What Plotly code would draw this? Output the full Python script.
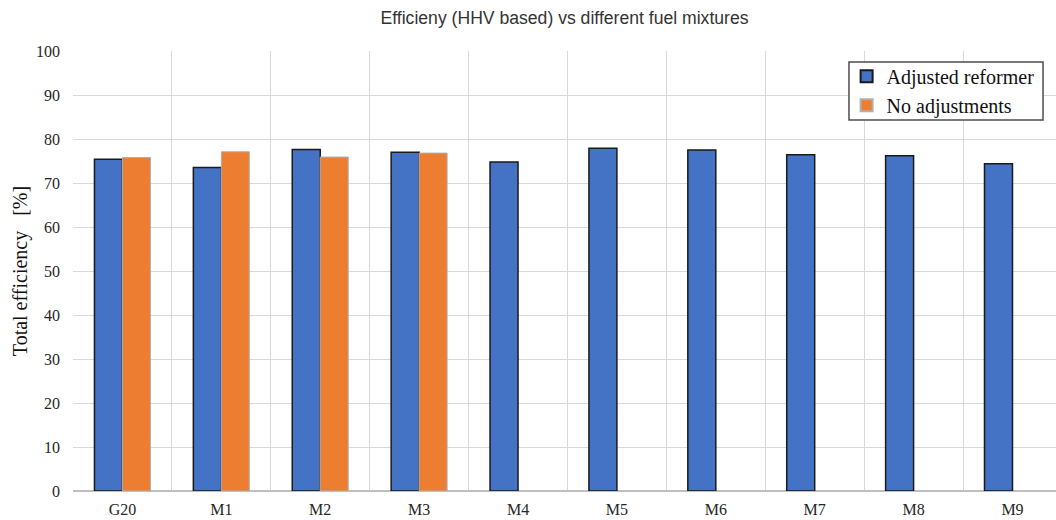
import plotly.graph_objects as go

mixtures = ["G20", "M1", "M2", "M3", "M4", "M5", "M6", "M7", "M8", "M9"]
adjusted_reformer = [75.4, 73.5, 77.6, 77.0, 74.8, 77.9, 77.5, 76.4, 76.2, 74.4]
no_adjustments = [75.8, 77.1, 75.9, 76.8, None, None, None, None, None, None]

serif = "Liberation Serif, Times New Roman, serif"

fig = go.Figure()
fig.add_trace(go.Bar(
    x=mixtures, y=adjusted_reformer, name="Adjusted reformer",
    marker=dict(color="#4472C4", line=dict(color="#1a1a1a", width=1.5)),
))
fig.add_trace(go.Bar(
    x=mixtures, y=no_adjustments, name="No adjustments",
    marker=dict(color="#ED7D31", line=dict(color="#b0b0b0", width=1)),
))

# framed white box behind the legend entries
fig.add_shape(
    type="rect", xref="paper", yref="paper",
    x0=0.7894, x1=0.9868, y0=0.843, y1=0.975,
    fillcolor="white", line=dict(color="#4d4d4d", width=1.5), layer="above",
)

fig.update_layout(
    width=1056, height=520,
    margin=dict(l=73, r=0, t=51, b=29),
    paper_bgcolor="white", plot_bgcolor="white",
    barmode="group", bargap=0.434, bargroupgap=0,
    title=dict(
        text="Efficieny (HHV based) vs different fuel mixtures",
        x=0.5, xref="paper", xanchor="center", y=0.965, yanchor="middle",
        font=dict(family="Liberation Sans, Arial, sans-serif",
                  size=17.6, color="#333333"),
    ),
    legend=dict(
        x=0.787, y=0.987, xanchor="left", yanchor="top",
        bgcolor="rgba(0,0,0,0)", borderwidth=0,
        font=dict(family=serif, size=20, color="#111111"),
        itemsizing="constant", tracegroupgap=0,
    ),
    xaxis=dict(
        type="category", tickson="boundaries", range=[-0.5, 9.44],
        showgrid=True, gridcolor="#d9d9d9", gridwidth=1,
        showline=False, ticks="", ticklabelstandoff=7,
        tickfont=dict(family=serif, size=16, color="#262626"),
    ),
    yaxis=dict(
        range=[0, 100], dtick=10,
        showgrid=True, gridcolor="#d9d9d9", gridwidth=1,
        zeroline=True, zerolinecolor="#bfbfbf", zerolinewidth=2,
        showline=False, ticks="", ticklabelstandoff=12,
        tickfont=dict(family=serif, size=16, color="#262626"),
        title=dict(text="Total efficiency\u00a0\u00a0 [%]", standoff=3,
                   font=dict(family=serif, size=20, color="#111111")),
    ),
)

fig.write_html("out.html")
